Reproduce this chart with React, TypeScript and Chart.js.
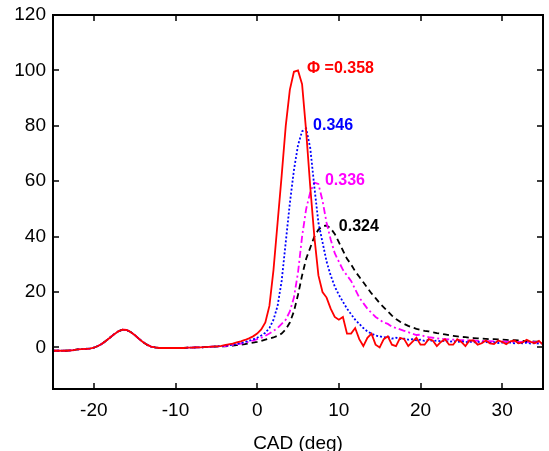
import React, { useEffect, useRef } from "react";
import { Chart, registerables } from "chart.js";

Chart.register(...registerables);

const cad = [
  -25, -24.5, -24, -23.5, -23, -22.5, -22, -21.5, -21, -20.5,
  -20, -19.5, -19, -18.5, -18, -17.5, -17, -16.5, -16, -15.5,
  -15, -14.5, -14, -13.5, -13, -12.5, -12, -11.5, -11, -10.5,
  -10, -9.5, -9, -8.5, -8, -7.5, -7, -6.5, -6, -5.5,
  -5, -4.5, -4, -3.5, -3, -2.5, -2, -1.5, -1, -0.5,
  0, 0.5, 1, 1.5, 2, 2.5, 3, 3.5, 4, 4.5,
  5, 5.5, 6, 6.5, 7, 7.5, 8, 8.5, 9, 9.5,
  10, 10.5, 11, 11.5, 12, 12.5, 13, 13.5, 14, 14.5,
  15, 15.5, 16, 16.5, 17, 17.5, 18, 18.5, 19, 19.5,
  20, 20.5, 21, 21.5, 22, 22.5, 23, 23.5, 24, 24.5,
  25, 25.5, 26, 26.5, 27, 27.5, 28, 28.5, 29, 29.5,
  30, 30.5, 31, 31.5, 32, 32.5, 33, 33.5, 34, 34.5,
  35,
];

const phi358 = [
  -1.2, -1.2, -1.2, -1.2, -1.1, -1.0, -0.7, -0.6, -0.5, -0.4,
  -0.1, 0.5, 1.3, 2.4, 3.6, 4.8, 5.8, 6.4, 6.3, 5.6,
  4.5, 3.2, 2.0, 1.0, 0.3, 0.0, -0.2, -0.2, -0.2, -0.2,
  -0.2, -0.2, -0.2, -0.1, -0.1, 0.0, 0.0, 0.1, 0.2, 0.3,
  0.4, 0.5, 0.8, 1.1, 1.4, 1.8, 2.2, 2.7, 3.3, 4.0,
  5.0, 6.5, 9, 15, 28, 45, 62, 80, 93, 99.5,
  100, 95, 78, 58, 40, 26, 20, 18, 14, 11,
  10, 11, 5, 5, 7, 3, 0.5, 3.5, 5, 1,
  0, 3, 4, 1, 0.5, 3.5, 3, 0.5, 2, 3.5,
  1, 1, 3, 2.5, 0.5, 2, 3, 1, 1, 3,
  2, 0.5, 2.5, 2.5, 1, 1.5, 2.5, 1.5, 1.2, 2.5,
  2, 1.2, 2.2, 2.5, 1.5, 1.8, 2.8, 2, 1.5, 2.4,
  1.0,
];

const phi346 = [
  -1.2, -1.2, -1.2, -1.2, -1.1, -1.0, -0.7, -0.6, -0.5, -0.4,
  -0.1, 0.5, 1.3, 2.4, 3.6, 4.8, 5.8, 6.4, 6.3, 5.6,
  4.5, 3.2, 2.0, 1.0, 0.3, 0.0, -0.2, -0.2, -0.2, -0.2,
  -0.2, -0.2, -0.2, -0.1, -0.1, 0.0, 0.0, 0.1, 0.2, 0.3,
  0.4, 0.5, 0.6, 0.8, 1.0, 1.3, 1.6, 2.0, 2.4, 2.9,
  3.5, 4.3, 5.3, 7, 10, 15, 24, 38, 52, 64,
  73, 78, 79, 72, 58, 45, 38, 31, 26, 22,
  19, 16.5, 14, 12, 10, 8.5, 7, 5.8, 5, 4.3,
  4, 3.6, 3.8, 3.2, 3.5, 3.0, 3.2, 2.8, 3.0, 2.6,
  2.8, 2.4, 2.7, 2.3, 2.5, 2.2, 2.4, 2.0, 2.3, 2.0,
  2.2, 1.9, 2.1, 1.8, 2.0, 1.8, 2.0, 1.6, 1.9, 1.6,
  1.8, 1.5, 1.8, 1.5, 1.7, 1.5, 1.7, 1.4, 1.6, 1.4,
  1.5,
];

const phi336 = [
  -1.2, -1.2, -1.2, -1.2, -1.1, -1.0, -0.7, -0.6, -0.5, -0.4,
  -0.1, 0.5, 1.3, 2.4, 3.6, 4.8, 5.8, 6.4, 6.3, 5.6,
  4.5, 3.2, 2.0, 1.0, 0.3, 0.0, -0.2, -0.2, -0.2, -0.2,
  -0.2, -0.2, -0.2, -0.1, -0.1, 0.0, 0.0, 0.1, 0.2, 0.3,
  0.3, 0.4, 0.5, 0.7, 0.9, 1.1, 1.4, 1.7, 2.1, 2.5,
  3.0, 3.5, 4.2, 5, 6, 7, 8.5, 10, 13, 18,
  27, 40, 50, 56, 59.5, 59, 53, 45, 39, 34,
  31, 28, 26, 24, 21, 18, 16, 14, 12.5, 11,
  10, 9, 8.5, 7.5, 7, 6.5, 6, 5.5, 5, 4.5,
  4.6, 4, 3.7, 3.5, 3.3, 3.1, 3.0, 2.9, 2.8, 2.7,
  2.6, 2.6, 2.5, 2.5, 2.4, 2.4, 2.3, 2.3, 2.2, 2.2,
  2.2, 2.1, 2.1, 2.0, 2.0, 2.0, 1.9, 1.9, 1.9, 1.8,
  1.8,
];

const phi324 = [
  -1.2, -1.2, -1.2, -1.2, -1.1, -1.0, -0.7, -0.6, -0.5, -0.4,
  -0.1, 0.5, 1.3, 2.4, 3.6, 4.8, 5.8, 6.4, 6.3, 5.6,
  4.5, 3.2, 2.0, 1.0, 0.3, 0.0, -0.2, -0.2, -0.2, -0.2,
  -0.2, -0.2, -0.2, -0.1, -0.1, 0.0, 0.0, 0.1, 0.2, 0.3,
  0.3, 0.35, 0.4, 0.5, 0.7, 0.8, 1.0, 1.2, 1.5, 1.7,
  2.0, 2.4, 2.8, 3.2, 3.6, 4.2, 5, 6.5, 9, 13,
  19, 26, 32, 36, 40, 42.5, 43.8, 44, 43, 41,
  38, 35, 32, 30, 27.5, 25.5, 23.5, 21.5, 19.5, 17.8,
  16, 14.5, 13, 11.5, 10.3, 9.3, 8.5, 7.8, 7.2, 6.7,
  6.3, 6, 5.8, 5.5, 5.2, 5, 4.7, 4.4, 4.2, 4,
  3.8, 3.7, 3.5, 3.4, 3.3, 3.2, 3.1, 3.0, 3.0, 2.9,
  2.8, 2.7, 2.6, 2.6, 2.5, 2.4, 2.3, 2.2, 2.1, 2.1,
  2.0,
];

const xTicks = [-20, -10, 0, 10, 20, 30];
const yTicks = [0, 20, 40, 60, 80, 100, 120];

const labelTexts = ["\u03A6 =0.358", "0.346", "0.336", "0.324"];
const labelX = [6.1, 6.85, 8.3, 10.0];
const labelY = [100.6, 80.0, 60.1, 43.5];
const seriesColors = ["#ff0000", "#0000ff", "#ff00ff", "#000000"];
const seriesDash = [[], [2, 2], [7, 3, 2, 3], [6, 4]];

const FONT = "'Liberation Sans', Arial, Helvetica, sans-serif";

const framePlugin = {
  id: "frame",
  afterDatasetsDraw(chart: any) {
    const { ctx, chartArea: a, scales } = chart;
    const xs = scales.x;
    const ys = scales.y;
    ctx.save();
    ctx.strokeStyle = "#000";
    ctx.lineWidth = 1.5;
    ctx.setLineDash([]);
    const tl = 6;
    ctx.beginPath();
    xTicks.forEach((v) => {
      const px = Math.round(xs.getPixelForValue(v));
      ctx.moveTo(px, a.bottom);
      ctx.lineTo(px, a.bottom - tl);
      ctx.moveTo(px, a.top);
      ctx.lineTo(px, a.top + tl);
    });
    yTicks.forEach((v) => {
      const py = Math.round(ys.getPixelForValue(v));
      ctx.moveTo(a.left, py);
      ctx.lineTo(a.left + tl, py);
      ctx.moveTo(a.right, py);
      ctx.lineTo(a.right - tl, py);
    });
    ctx.stroke();
    ctx.lineWidth = 2;
    ctx.strokeRect(a.left, a.top, a.right - a.left, a.bottom - a.top);

    ctx.font = `bold 16px ${FONT}`;
    ctx.textAlign = "left";
    ctx.textBaseline = "middle";
    labelTexts.forEach((t, i) => {
      ctx.fillStyle = seriesColors[i];
      ctx.fillText(t, xs.getPixelForValue(labelX[i]), ys.getPixelForValue(labelY[i]));
    });
    ctx.restore();
  },
};

export default function App() {
  const ref = useRef<HTMLCanvasElement | null>(null);

  useEffect(() => {
    if (!ref.current) return;
    const series = [phi358, phi346, phi336, phi324];
    const chart = new Chart(ref.current, {
      type: "line",
      data: {
        datasets: series.map((s, i) => ({
          label: labelTexts[i],
          data: cad.map((x, j) => ({ x, y: s[j] })),
          borderColor: seriesColors[i],
          backgroundColor: seriesColors[i],
          borderWidth: 1.8,
          borderDash: seriesDash[i],
          pointRadius: 0,
          tension: 0,
          fill: false,
        })),
      },
      options: {
        animation: false,
        responsive: false,
        devicePixelRatio: 1,
        layout: { padding: { left: 0, right: 6, top: 15, bottom: 0 } },
        plugins: {
          legend: { display: false },
          tooltip: { enabled: false },
        },
        scales: {
          x: {
            type: "linear",
            min: -25,
            max: 35,
            afterBuildTicks: (s: any) => {
              s.ticks = xTicks.map((v) => ({ value: v }));
            },
            afterFit: (s: any) => {
              s.height = 62;
              s.paddingLeft = 0;
              s.paddingRight = 0;
            },
            grid: { display: false, drawTicks: false },
            border: { display: false },
            ticks: {
              color: "#000",
              padding: 10,
              maxRotation: 0,
              font: { family: FONT, size: 19 },
            },
            title: {
              display: true,
              text: "CAD (deg)",
              color: "#000",
              padding: { top: 0, bottom: -2 },
              font: { family: FONT, size: 19, lineHeight: 1.0 },
            },
          },
          y: {
            type: "linear",
            min: -15,
            max: 120,
            afterBuildTicks: (s: any) => {
              s.ticks = yTicks.map((v) => ({ value: v }));
            },
            afterFit: (s: any) => {
              s.width = 53;
              s.paddingTop = 0;
              s.paddingBottom = 0;
            },
            grid: { display: false, drawTicks: false },
            border: { display: false },
            ticks: {
              color: "#000",
              padding: 7,
              font: { family: FONT, size: 19 },
            },
          },
        },
      },
      plugins: [framePlugin],
    } as any);
    return () => chart.destroy();
  }, []);

  return (
    <canvas
      ref={ref}
      width={549}
      height={451}
      style={{ position: "absolute", left: 0, top: 0, width: 549, height: 451 }}
    />
  );
}
